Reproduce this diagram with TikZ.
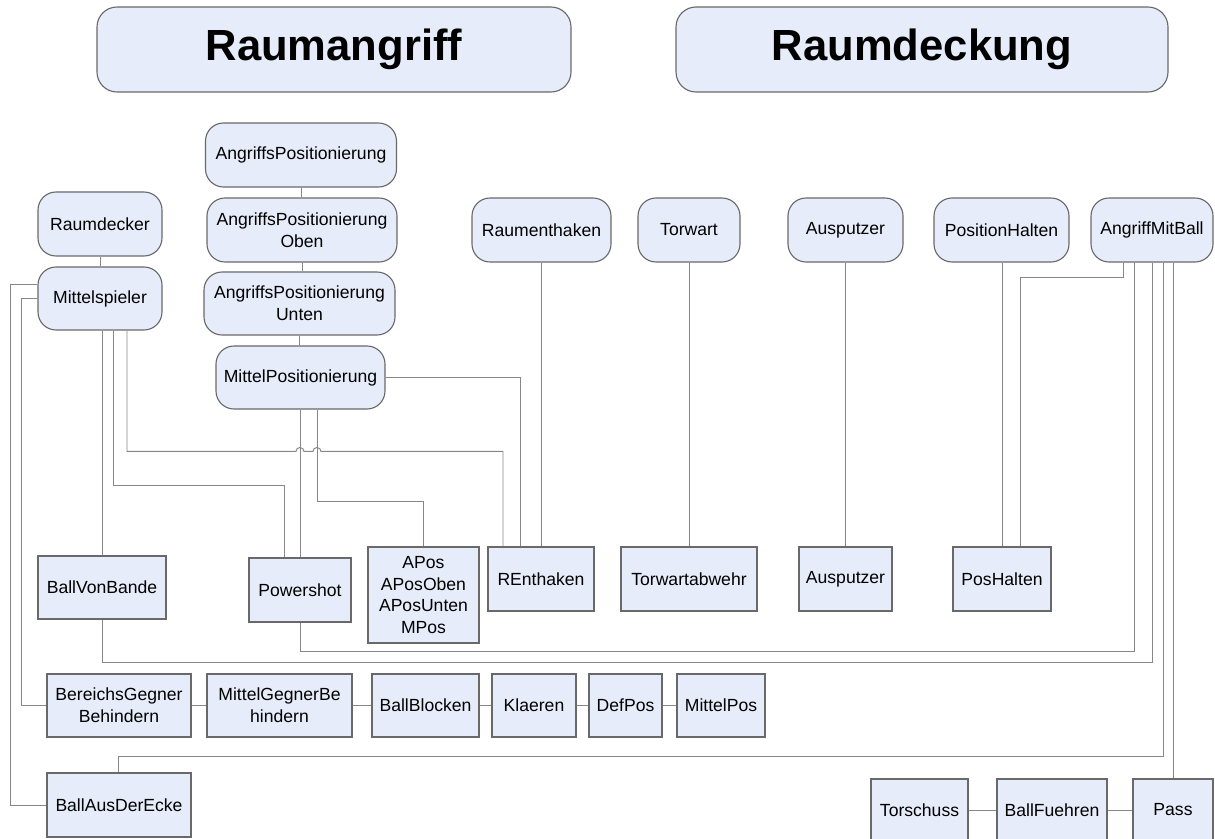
\documentclass[tikz,border=0pt]{standalone}
\usepackage{fontspec}
\setmainfont{Liberation Sans}
\usetikzlibrary{calc}
\definecolor{boxblau}{RGB}{230,236,249}
\definecolor{rand}{RGB}{105,105,105}
\definecolor{linie}{RGB}{135,135,135}

\begin{document}
\begin{tikzpicture}[x=0.025cm,y=-0.025cm,
  every node/.style={draw=rand,fill=boxblau,line width=0.8pt,inner sep=0pt,align=center,font=\fontsize{12.5}{15.4}\selectfont},
  sz/.style 2 args={minimum width=#1*0.025cm,minimum height=#2*0.025cm},
  rbox/.style={rounded corners=0.45cm},
  titel/.style={rounded corners=0.5cm,font=\fontsize{31}{36}\selectfont\bfseries},
  verb/.style={draw=linie,line width=0.7pt}]
\useasboundingbox (0,0) rectangle (1215,839);

% Ueberschriften
\node[titel,sz={474}{85}] (ra) at (334,49.5) {Raumangriff};
\node[titel,sz={492}{85}] (rd) at (922,49.5) {Raumdeckung};

% Rollen
\node[rbox,sz={191}{64}] (ap)  at (301,155)     {AngriffsPositionierung};
\node[rbox,sz={190}{64}] (apo) at (302,230)     {AngriffsPositionierung\\Oben};
\node[rbox,sz={191}{63}] (apu) at (299.5,303.5) {AngriffsPositionierung\\Unten};
\node[rbox,sz={169}{63}] (mp)  at (300.5,377.5) {MittelPositionierung};
\node[rbox,sz={124}{64}] (rdk) at (100,224)     {Raumdecker};
\node[rbox,sz={124}{63}] (ms)  at (100,298.5)   {Mittelspieler};
\node[rbox,sz={139}{64}] (rh)  at (541.5,230)   {Raumenthaken};
\node[rbox,sz={102}{64}] (tw)  at (689,230)     {Torwart};
\node[rbox,sz={115}{64}] (au)  at (845.5,230)   {Ausputzer};
\node[rbox,sz={135}{64}] (ph)  at (1001.5,230)  {PositionHalten};
\node[rbox,sz={122}{64}] (amb) at (1152,230)    {AngriffMitBall};

% Verhalten
\node[sz={128}{63}] (bvb)  at (102,587.5)   {BallVonBande};
\node[sz={102}{64}] (ps)   at (300,590)     {Powershot};
\node[sz={111}{96}] (apos) at (423.5,595)   {APos\\APosOben\\APosUnten\\MPos};
\node[sz={106}{64}] (reh)  at (541,579)     {REnthaken};
\node[sz={136}{64}] (twa)  at (689,579)     {Torwartabwehr};
\node[sz={93}{64}]  (aus)  at (845.5,579)   {Ausputzer};
\node[sz={98}{64}]  (pha)  at (1002,579)    {PosHalten};
\node[sz={144}{63}] (bgb)  at (119,705.5)   {BereichsGegner\\Behindern};
\node[sz={145}{63}] (mgb)  at (279.5,705.5) {MittelGegnerBe\\hindern};
\node[sz={107}{63}] (bb)   at (425.5,705.5) {BallBlocken};
\node[sz={84}{63}]  (kl)   at (534,705.5)   {Klaeren};
\node[sz={73}{63}]  (dp)   at (625.5,705.5) {DefPos};
\node[sz={88}{63}]  (mpo)  at (721,705.5)   {MittelPos};
\node[sz={144}{64}] (bade) at (119,805)     {BallAusDerEcke};
\node[sz={97}{62}]  (ts)   at (919.5,810)   {Torschuss};
\node[sz={110}{62}] (bf)   at (1052,810)    {BallFuehren};
\node[sz={80}{62}]  (pass) at (1173,810)    {Pass};

\coordinate (hopy) at ($(reh.north)+(0,-95)$);

\foreach \a/\b in {bgb/mgb,mgb/bb,bb/kl,kl/dp,dp/mpo,ts/bf,bf/pass}
  \draw[verb] (\a) -- (\b);
\foreach \a/\b in {rdk/ms,ap/apo,apo/apu,apu/mp}
  \draw[verb] (\a.south) -- (\a.south |- \b.north);

% Mittelspieler
\draw[verb] ($(ms.west)+(0,-14)$) -- ++(-27,0) |- (bade.west);
\draw[verb] (ms.west) -- ++(-16,0) |- (bgb.west);
\draw[verb] (bvb.north |- ms.south) -- (bvb.north);
\draw[verb] ($(ms.south)+(13,0)$) |- ($(ps.north)+(-16,-72)$) -- ($(ps.north)+(-16,0)$);
\draw[verb] ($(ms.south)+(27,0)$) |- ($(hopy -| ps.north)+(-4,0)$)
  arc[start angle=180,end angle=0,radius=2.83pt]
  -- ($(hopy -| mp.south)+(12.5,0)$)
  arc[start angle=180,end angle=0,radius=2.83pt]
  -| ($(reh.north)+(-38,0)$);

% MittelPositionierung
\draw[verb] (ps.north |- mp.south) -- (ps.north);
\draw[verb] ($(mp.south)+(16.5,0)$) |- ($(apos.north)+(0,-45)$) -- (apos.north);
\draw[verb] (mp.east) -| ($(reh.north)+(-21,0)$);

% Raumdeckung
\draw[verb] (reh.north |- rh.south) -- (reh.north);
\draw[verb] (twa.north |- tw.south) -- (twa.north);
\draw[verb] (aus.north |- au.south) -- (aus.north);
\draw[verb] (pha.north |- ph.south) -- (pha.north);

% AngriffMitBall
\draw[verb] ($(amb.south)+(-29,0)$) -- ++(0,15) -| ($(pha.north)+(18,0)$);
\draw[verb] ($(amb.south)+(-18,0)$) |- ($(ps.south)+(0,29)$) -- (ps.south);
\draw[verb] (amb.south) |- ($(bvb.south)+(0,43)$) -- (bvb.south);
\draw[verb] ($(amb.south)+(11,0)$) |- ($(bade.north)+(-1,-16)$) -- ($(bade.north)+(-1,0)$);
\draw[verb] (pass.north |- amb.south) -- (pass.north);
\end{tikzpicture}
\end{document}
